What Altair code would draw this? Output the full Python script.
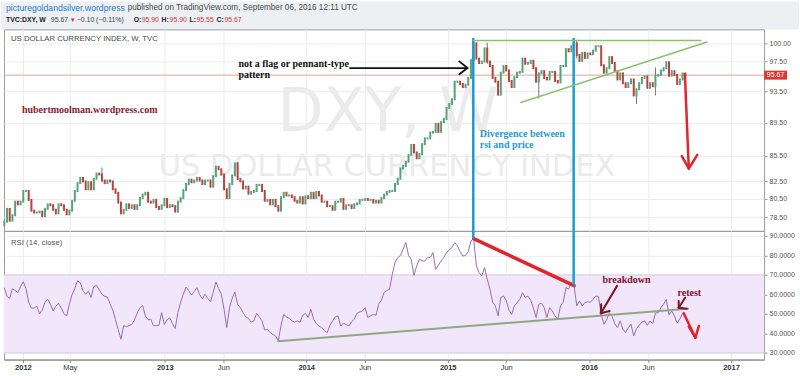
import altair as alt
import pandas as pd
import numpy as np

# ---------------- data ----------------
first_bar = "2011-11-14"      # Monday of the first weekly bar
first_open = 77.6
last_open = 95.90

close_2011 = [78.0, 79.4, 78.1, 78.7, 80.2, 79.9, 80.2]
close_2012 = [81.4, 81.4, 80.4, 79.2, 79.0, 79.0, 79.1, 78.6, 79.4, 79.9, 79.8, 79.3, 78.9,
              79.9, 79.8, 79.3, 78.8, 79.2, 80.3, 81.4, 82.3, 82.9, 82.5, 81.6, 82.4, 81.6,
              82.8, 83.4, 83.3, 82.6, 82.3, 82.6, 82.5, 81.6, 81.2, 80.1, 78.9, 79.3, 79.9,
              79.5, 79.8, 79.4, 79.8, 80.6, 81.0, 81.2, 80.2, 80.1, 80.4, 79.6, 79.4, 79.8, 80.5]
close_2013 = [79.6, 79.8, 79.7, 79.1, 80.2, 80.6, 81.5, 82.2, 82.7, 82.4, 82.6, 82.9, 82.6,
              82.2, 82.6, 82.6, 81.9, 83.1, 84.2, 83.9, 83.3, 81.6, 80.6, 82.2, 83.2, 84.6,
              82.8, 82.5, 81.7, 81.9, 81.1, 81.3, 81.4, 82.1, 82.1, 81.4, 80.3, 80.4, 79.9,
              80.4, 79.7, 79.2, 80.7, 81.2, 80.9, 80.9, 80.7, 80.3, 80.1, 80.7, 80.0, 80.8]
close_2014 = [80.6, 81.2, 80.6, 81.3, 80.9, 80.2, 80.2, 79.7, 79.7, 79.3, 80.2, 80.2, 80.5,
              79.4, 79.8, 79.8, 79.5, 79.9, 80.0, 80.4, 80.4, 80.5, 80.4, 80.4, 80.1, 80.3,
              80.1, 80.6, 81.0, 81.3, 81.4, 81.4, 82.2, 82.8, 84.0, 84.3, 84.8, 85.6, 86.8,
              85.9, 85.2, 85.7, 86.9, 87.6, 87.6, 88.3, 88.4, 89.4, 88.4, 89.6, 90.0, 91.4]
close_2015 = [91.9, 92.5, 94.8, 94.8, 94.5, 94.1, 94.4, 95.3, 97.7, 100.0, 97.9, 97.3, 97.5,
              99.3, 97.5, 96.9, 95.3, 94.8, 93.1, 96.0, 96.9, 96.3, 94.9, 94.1, 95.4, 96.0,
              96.1, 97.9, 97.2, 97.3, 97.6, 96.6, 94.8, 95.9, 96.2, 95.3, 95.1, 96.1, 96.1,
              94.9, 94.7, 96.9, 96.9, 99.2, 98.9, 99.6, 100.0, 98.4, 97.6, 98.7, 98.0, 98.6]
close_2016 = [98.5, 99.0, 99.6, 99.6, 97.0, 96.0, 96.6, 98.1, 97.3, 96.2, 95.1, 95.9, 94.6,
              94.1, 94.6, 95.1, 93.0, 93.8, 94.6, 95.3, 95.5, 94.0, 94.6, 94.2, 95.6, 95.7,
              96.3, 96.6, 97.4, 95.6, 96.2, 95.7, 94.5, 95.1, 95.9, 95.67]

rsi_2011 = [63.5, 59, 58, 63, 62, 61, 64]
rsi_2012 = [66.5, 63, 56, 53, 53, 54, 50, 52, 56, 57.5, 55, 51.5, 54, 55.5, 53, 50, 49, 55,
            60, 63, 67, 66, 62, 60, 61.8, 58.4, 64, 64.7, 62.5, 60, 59, 58.7, 55, 52, 47, 42,
            37, 44, 43.5, 44, 44.6, 47, 50.5, 53.2, 54.3, 49, 47, 47.2, 44, 44, 44.2, 50.7, 44.6]
rsi_2013 = [47, 48.1, 45, 42.5, 50.7, 56, 60.1, 63.8, 62, 59.6, 61.5, 63.5, 60, 57.8, 60.1,
            58, 56.2, 61, 66.4, 63, 60.1, 52.4, 43, 53.2, 58, 61.3, 55, 53.2, 50.7, 48.5, 47.7,
            45.8, 46.4, 50.3, 48.5, 46.4, 41.8, 42, 40.4, 39.5, 38.7, 36.2, 44.2, 49.8, 48.5,
            47.7, 46.5, 45.8, 46.4, 45.8, 49.3, 50.3]
rsi_2014 = [48.2, 52.4, 47.3, 45, 43.8, 43, 41.5, 40.4, 44, 46.4, 48.6, 49, 43.8, 45.3, 44.5,
            43.8, 46, 47.3, 50.3, 51, 51.5, 53.2, 48.1, 49, 49.8, 49.3, 55, 57, 61, 62, 62.6,
            70.3, 76.3, 78.9, 80, 83.2, 86.6, 80, 78, 69.8, 74.6, 78, 77.2, 77.2, 78.9, 78.9,
            81.5, 72.9, 75, 77.2, 79, 81.5]
rsi_2015 = [83, 84, 86.6, 85, 82, 79.7, 80, 82, 87.4, 88.6, 74.6, 71.2, 69.5, 73.8, 67.8, 62.7,
            56, 54.1, 49, 58.4, 59.2, 57, 52, 49.8, 54.1, 55.8, 57.5, 60.9, 58.4, 59.2, 57,
            53.2, 48.1, 55, 55.5, 53.2, 48.1, 53.2, 51.5, 49, 47.3, 54.1, 56, 63.5, 62.7, 66.1,
            64.5, 54.1, 56.7, 54.1, 55.8, 56.2]
rsi_2016 = [56, 57.5, 59.2, 58.9, 49.8, 44.7, 47, 50.6, 48.8, 45, 43, 46.4, 42.2, 40.4, 43,
            44.7, 38.7, 42.5, 44.2, 45.8, 46.5, 44.2, 46.4, 45, 50.6, 50.6, 53.2, 55, 57.5,
            49.4, 51.5, 49, 45.3, 47.5, 50.3, 49.5]

# a few visible long wicks
wick_dates = ["2012-07-23", "2013-07-08", "2015-03-09", "2015-04-13", "2015-08-24",
              "2015-11-30", "2016-05-02", "2016-06-20"]
wick_low = [82.5, 82.7, 97.6, 97.2, 92.6, 97.9, 91.9, 93.0]
wick_high = [84.1, 84.75, 100.4, 100.1, 96.0, 100.5, 93.9, 96.7]

last_price = 95.67
price_ticks = [100.0, 97.5, 93.5, 89.5, 85.5, 82.5, 80.5, 78.5]
rsi_ticks = [30, 40, 50, 60, 70, 80, 90]
tick_dates = ["2012-01-01", "2012-05-01", "2013-01-01", "2013-06-01", "2014-01-01",
              "2014-06-01", "2015-01-01", "2015-06-01", "2016-01-01", "2016-06-01", "2017-01-01"]
tick_labels = ["2012", "May", "2013", "Jun", "2014", "Jun", "2015", "Jun", "2016", "Jun", "2017"]

# ---------------- tables ----------------
closes = close_2011 + close_2012 + close_2013 + close_2014 + close_2015 + close_2016
rsi_vals = rsi_2011 + rsi_2012 + rsi_2013 + rsi_2014 + rsi_2015 + rsi_2016
n = min(len(closes), len(rsi_vals))
closes, rsi_vals = closes[:n], rsi_vals[:n]
dates = pd.date_range(first_bar, periods=n, freq="7D")
opens = [first_open] + closes[:-1]
opens[-1] = last_open
df = pd.DataFrame({"date": dates.strftime("%Y-%m-%d"), "open": opens, "close": closes, "rsi": rsi_vals})
df["dir"] = np.where(df["close"] >= df["open"], "up", "down")
wdf = pd.DataFrame({"date": wick_dates, "low": wick_low, "high": wick_high})

# ---------------- styling ----------------
W, HH, H1, H2 = 762, 28, 202, 129
UP, DOWN = "#55a27b", "#b8433c"
BLUE, GREEN, TREND = "#1b9bd1", "#8dbf6e", "#8fa783"
RED, DARKRED = "#e0262b", "#7d1426"
RSI_COLOR, BAND = "#9a6cb7", "#f2e6fb"
GRID = "#ececec"


def dt(s, h=0):
    y, m, d = (int(v) for v in s.split("-"))
    return alt.DateTime(year=y, month=m, date=d, hours=h, utc=True)


XS = alt.Scale(type="utc", domain=[dt("2011-11-13", 6), dt("2017-03-27", 7)])
YP = alt.Scale(type="log", domain=[77.0, 101.97], nice=False)
YR = alt.Scale(domain=[26.6, 92.6], nice=False, zero=False)
tick_vals = [dt(d) for d in tick_dates]
labels_js = "[" + ",".join(f"'{t}'" for t in tick_labels) + "]"
dates_js = "[" + ",".join(f"'{d}'" for d in tick_dates) + "]"
label_expr = f"{labels_js}[indexof({dates_js}, utcFormat(datum.value, '%Y-%m-%d'))]"

# shared axes (identical on every layer so that the merged axis survives)
AX_MX = alt.Axis(values=tick_vals, labels=False, ticks=False, domain=False, grid=True, gridColor=GRID, title=None)
AX_MY = alt.Axis(orient="right", values=price_ticks, format=".2f", title=None, grid=True, gridColor=GRID,
                 tickSize=3, tickColor="#999", labelFontSize=7, labelColor="#555", domain=False, labelPadding=2)
AX_RX = alt.Axis(values=tick_vals, labelExpr=label_expr, title=None, grid=True, gridColor=GRID, tickSize=3,
                 tickColor="#888", domainColor="#888", labelFontSize=7.5, labelColor="#333", labelPadding=1,
                 labelFontWeight={"condition": {"test": "utcmonth(datum.value) == 0", "value": "bold"},
                                  "value": "normal"})
AX_RY = alt.Axis(orient="right", values=rsi_ticks, format=".4f", title=None, grid=True, gridColor=GRID,
                 tickSize=3, tickColor="#999", labelFontSize=7, labelColor="#555", domain=False, labelPadding=2)


def txt(text, x, y, **kw):
    return alt.Chart(pd.DataFrame({"t": [text]})).mark_text(**kw).encode(
        text="t:N", x=alt.value(x), y=alt.value(y))


def seg_df(pairs):
    rows = []
    for k, ((d1, v1), (d2, v2)) in enumerate(pairs):
        rows += [{"seg": k, "date": d1, "v": v1}, {"seg": k, "date": d2, "v": v2}]
    return pd.DataFrame(rows)


def arrow(start, tip, h1, h2):
    return [(start, tip), (h1, tip), (h2, tip)]


def lines(pairs, color, width, yscale, xaxis, yaxis):
    return alt.Chart(seg_df(pairs)).mark_line(color=color, strokeWidth=width, strokeCap="round").encode(
        x=alt.X("date:T", scale=XS, axis=xaxis), y=alt.Y("v:Q", scale=yscale, axis=yaxis), detail="seg:N")


SERIF = dict(font="Liberation Serif", fontWeight="bold", fontSize=10, align="left", baseline="middle")

# ---------------- header ----------------
hdr = [alt.Chart(pd.DataFrame({"a": [0]})).mark_rect(color="#eceff3").encode(
    x=alt.value(-3), x2=alt.value(797), y=alt.value(0), y2=alt.value(HH))]
H_KW = dict(font="Liberation Sans", align="left", baseline="middle")
hdr.append(txt("picturegoldandsilver.wordpress", 2, 7, color="#2c7fd0", fontSize=8.7, **H_KW))
hdr.append(txt("published on TradingView.com, September 06, 2016 12:11 UTC", 124, 7,
               color="#4a4a4a", fontSize=8.2, **H_KW))
pieces = [("TVC:DXY, W", 2, "#222", "bold"), ("95.67", 47, "#444", "normal"),
          ("▼", 66, "#d0342c", "normal"), ("−0.10 (−0.11%)", 73, "#444", "normal"),
          ("O:", 130, "#222", "bold"), ("95.90", 138, "#c8392f", "normal"),
          ("H:", 158, "#222", "bold"), ("95.90", 166, "#c8392f", "normal"),
          ("L:", 186, "#222", "bold"), ("95.55", 193, "#c8392f", "normal"),
          ("C:", 213, "#222", "bold"), ("95.67", 221, "#c8392f", "normal")]
for t, x, c, w in pieces:
    hdr.append(txt(t, x, 19, color=c, fontWeight=w, fontSize=6.9 if t != "▼" else 6, **H_KW))
header = alt.layer(*hdr).properties(width=W, height=HH, view=alt.ViewBackground(stroke="transparent"))

# ---------------- main price panel ----------------
XM = alt.X("date:T", scale=XS, axis=AX_MX)
pl = pd.DataFrame({"p": [last_price], "t": [f"{last_price:.2f}"]})
main_layers = [
    txt("DXY, W", 385, 102, fontSize=60, color="#ebebeb", font="DejaVu Sans", align="center", baseline="alphabetic"),
    txt("US DOLLAR CURRENCY INDEX", 384, 147, fontSize=30.5, color="#ebebeb", font="DejaVu Sans",
        align="center", baseline="alphabetic"),
    alt.Chart(pl).mark_rule(color="#dba69c", strokeWidth=1).encode(y=alt.Y("p:Q", scale=YP, axis=AX_MY)),
    alt.Chart(wdf).mark_rule(color="#777", strokeWidth=1).encode(
        x=XM, y=alt.Y("low:Q", scale=YP, axis=AX_MY), y2="high:Q"),
    alt.Chart(df).mark_rule(strokeWidth=2, strokeCap="square").encode(
        x=XM, y=alt.Y("open:Q", scale=YP, axis=AX_MY), y2="close:Q",
        color=alt.Color("dir:N", scale=alt.Scale(domain=["up", "down"], range=[UP, DOWN]), legend=None)),
    alt.Chart(pd.DataFrame({"date": ["2015-03-08", "2015-11-22"], "top": [100.75] * 2, "bot": [77.0] * 2}))
    .mark_rule(color=BLUE, strokeWidth=2.5).encode(x=XM, y=alt.Y("top:Q", scale=YP, axis=AX_MY), y2="bot:Q"),
    lines([(("2015-03-08", 100.4), ("2016-10-15", 100.4)),
           (("2015-07-09", 92.1), ("2016-10-31", 100.2))], GREEN, 1.6, YP, AX_MX, AX_MY),
    lines(arrow(("2014-04-24", 96.62), ("2015-02-21", 96.62), ("2015-01-31", 97.53), ("2015-01-31", 95.78)),
          "#111", 1.8, YP, AX_MX, AX_MY),
    lines(arrow(("2016-09-04", 95.78), ("2016-09-14", 84.0), ("2016-08-27", 85.45), ("2016-10-06", 85.6)),
          RED, 2.5, YP, AX_MX, AX_MY),
    txt("US DOLLAR CURRENCY INDEX, W, TVC", 7, 10, fontSize=7.8, color="#4a4a4a", font="Liberation Sans",
        align="left", baseline="middle"),
    txt("not a flag or pennant-type", 235, 35, color="#111", **SERIF),
    txt("pattern", 235, 46, color="#111", **SERIF),
    txt("hubertmoolman.wordpress.com", 18, 81, color="#8b1a2e", **SERIF),
    txt("Divergence between", 477, 105, color=BLUE, **SERIF),
    txt("rsi and price", 477, 116, color=BLUE, **SERIF),
    alt.Chart(pl).mark_rect(color="#d83a33", yOffset=-4.5, y2Offset=4.5).encode(
        x=alt.value(762), x2=alt.value(785), y=alt.Y("p:Q", scale=YP, axis=AX_MY), y2="p:Q"),
    alt.Chart(pl).mark_text(color="white", fontSize=7, align="center", baseline="middle").encode(
        x=alt.value(773.5), y=alt.Y("p:Q", scale=YP, axis=AX_MY), text="t:N"),
]
main = alt.layer(*main_layers).properties(width=W, height=H1)

# ---------------- RSI panel ----------------
XR = alt.X("date:T", scale=XS, axis=AX_RX)
band = pd.DataFrame({"lo": [30], "hi": [70]})
rsi_layers = [
    alt.Chart(band).mark_rect(color=BAND).encode(
        x=alt.value(0), x2=alt.value(W), y=alt.Y("hi:Q", scale=YR, axis=AX_RY), y2="lo:Q"),
    alt.Chart(pd.DataFrame({"l": [30, 70]})).mark_rule(color="#d6c8e2", strokeWidth=1).encode(
        y=alt.Y("l:Q", scale=YR, axis=AX_RY)),
    alt.Chart(df).mark_line(color=RSI_COLOR, strokeWidth=1).encode(x=XR, y=alt.Y("rsi:Q", scale=YR, axis=AX_RY)),
    lines([(("2013-10-21", 36.0), ("2016-09-12", 52.7))], TREND, 2, YR, AX_RX, AX_RY),
    lines([(("2015-03-09", 88.6), ("2015-11-23", 64.5))], RED, 3.5, YR, AX_RX, AX_RY),
    alt.Chart(pd.DataFrame({"date": ["2015-03-08", "2015-11-22"], "top": [92.6] * 2, "bot": [88.6, 64.5]}))
    .mark_rule(color=BLUE, strokeWidth=2.5).encode(x=XR, y=alt.Y("top:Q", scale=YR, axis=AX_RY), y2="bot:Q"),
    lines(arrow(("2016-03-13", 64.4), ("2016-01-31", 50.4), ("2016-02-01", 55.0), ("2016-02-23", 51.5)),
          DARKRED, 2, YR, AX_RX, AX_RY),
    lines(arrow(("2016-09-05", 58.4), ("2016-08-19", 53.2), ("2016-08-19", 56.7), ("2016-09-09", 52.7)),
          DARKRED, 2, YR, AX_RX, AX_RY),
    lines(arrow(("2016-09-01", 50.4), ("2016-10-01", 37.8), ("2016-09-14", 43.5), ("2016-10-10", 43.8)),
          RED, 2.5, YR, AX_RX, AX_RY),
    txt("RSI (14, close)", 7, 12, fontSize=7.8, color="#555", font="Liberation Sans", align="left",
        baseline="middle"),
    txt("breakdown", 624, 49, color=DARKRED, **{**SERIF, "align": "center"}),
    txt("retest", 687, 62, color=DARKRED, **{**SERIF, "align": "center"}),
]
rsi = alt.layer(*rsi_layers).properties(width=W, height=H2)

chart = alt.vconcat(header, main, rsi, spacing=0, bounds="flush").properties(padding=0).configure(
    background="white", font="Liberation Sans").configure_view(stroke="#9a9a9a", strokeWidth=1)

chart.save("out.html", embed_options={"renderer": "svg", "actions": False})
